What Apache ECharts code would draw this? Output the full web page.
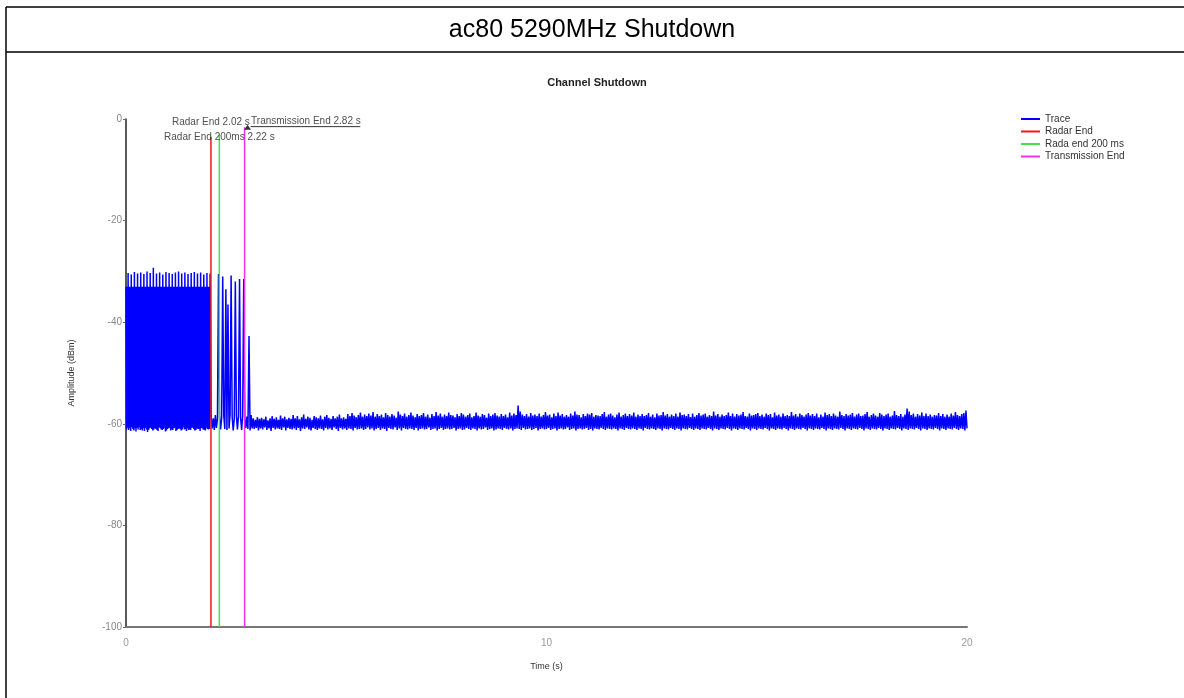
<!DOCTYPE html>
<html>
<head>
<meta charset="utf-8">
<script src="https://cdn.jsdelivr.net/npm/echarts@6/dist/echarts.min.js"></script>
<style>
html,body{margin:0;padding:0;background:#fff;}
#chart{width:1184px;height:698px;}
</style>
</head>
<body>
<div id="chart"></div>
<script>
// ---- data ----
const pageTitle = 'ac80 5290MHz Shutdown';
const chartTitle = 'Channel Shutdown';
const xName = 'Time (s)';
const yName = 'Amplitude (dBm)';
const xMin = 0, xMax = 20, xInterval = 10;
const yMin = -100, yMax = 0, yInterval = 20;

// burst part of the trace (0 .. 2.0 s)
const burstStart = 0;
const burstStep = 0.0125;
const burstValues = [
-33,-61.1,-33,-60.8,-30.3,-61.2,
-33,-60.9,-33,-61.4,-30.6,-60.7,
-33,-61.0,-33,-61.3,-30.1,-60.9,
-33,-61.5,-33,-60.8,-30.4,-61.1,
-33,-60.7,-33,-61.2,-30.2,-61.0,
-33,-61.3,-33,-60.9,-30.5,-61.4,
-33,-60.8,-33,-61.1,-30.0,-61.6,
-33,-61.2,-33,-60.9,-30.3,-60.8,
-33,-61.0,-33,-61.3,-29.3,-61.1,
-33,-60.9,-33,-61.0,-30.4,-61.2,
-33,-61.4,-33,-60.7,-30.2,-60.9,
-33,-61.1,-33,-61.2,-30.6,-61.0,
-33,-60.8,-33,-61.5,-30.1,-61.3,
-33,-61.0,-33,-60.9,-30.3,-60.8,
-33,-61.3,-33,-61.1,-30.5,-61.2,
-33,-60.9,-33,-60.8,-30.2,-61.4,
-33,-61.2,-33,-61.0,-30.0,-60.9,
-33,-61.0,-33,-61.3,-30.4,-61.1,
-33,-60.7,-33,-61.1,-30.2,-61.0,
-33,-61.4,-33,-60.9,-30.5,-61.2,
-33,-61.1,-33,-61.2,-30.3,-60.8,
-33,-60.8,-33,-61.0,-30.1,-61.3,
-33,-61.2,-33,-60.9,-30.4,-61.0,
-33,-61.0,-33,-61.4,-30.2,-60.9,
-33,-60.9,-33,-61.1,-30.6,-61.2,
-33,-61.3,-33,-60.8,-30.3,-61.0,
-33,-61.1,-33,-61.0,-30.4
];

// after the burst: decaying spikes, then the noise floor (2.025 .. 20 s)
const floorStart = 2.025;
const floorStep = 0.025;
const floorValues = [
-58.6,-60.9,-58.9,-61.2,-58.3,-60.8,-59.0,-30.5,-58.5,-61.1,
-58.8,-31.0,-58.4,-61.0,-33.5,-61.2,-36.5,-60.9,-58.2,-30.8,
-58.7,-61.3,-58.9,-32.0,-58.4,-61.1,-58.5,-31.5,-58.8,-61.2,
-58.4,-31.5,-58.9,-60.8,-58.6,-61.0,-42.7,-61.3,-58.3,-60.9,
-58.9,-61.0,-59.2,-60.8,-58.7,-61.3,-59.0,-60.9,-58.8,-61.1,
-59.1,-60.7,-58.6,-61.2,-59.3,-60.9,-58.9,-61.4,-58.5,-60.8,
-59.0,-61.1,-58.7,-60.9,-59.2,-61.0,-58.4,-61.2,-58.9,-60.7,
-58.6,-61.3,-59.1,-60.8,-58.8,-61.0,-59.0,-61.1,-58.3,-60.9,
-58.9,-61.2,-58.5,-60.8,-59.1,-61.4,-58.7,-60.9,-58.2,-61.0,
-59.0,-60.7,-58.6,-61.1,-58.8,-61.3,-59.2,-60.8,-58.5,-61.0,
-58.7,-61.2,-58.9,-60.9,-58.4,-61.0,-59.1,-61.3,-58.6,-60.8,
-58.3,-61.1,-58.8,-60.9,-59.0,-61.2,-58.5,-60.7,-58.9,-61.0,
-58.6,-61.4,-58.2,-60.8,-58.9,-61.1,-58.7,-60.9,-59.0,-61.2,
-58.1,-60.9,-58.5,-61.0,-57.9,-61.3,-58.4,-60.8,-58.7,-61.1,
-58.3,-61.0,-57.8,-60.9,-58.6,-61.2,-58.2,-61.0,-58.5,-60.7,
-58.0,-61.1,-58.4,-60.9,-57.7,-61.3,-58.6,-61.0,-58.1,-60.8,
-58.5,-61.2,-58.2,-60.9,-58.7,-61.0,-57.9,-61.4,-58.3,-60.8,
-58.6,-61.0,-58.1,-61.1,-58.4,-60.7,-58.8,-61.2,-57.6,-60.9,
-58.2,-61.3,-58.5,-60.8,-58.0,-61.0,-58.6,-61.1,-58.3,-60.9,
-57.8,-61.0,-58.4,-61.2,-58.7,-60.8,-58.1,-61.3,-58.5,-61.0,
-58.3,-60.9,-57.9,-61.1,-58.6,-61.0,-58.2,-60.7,-58.8,-61.2,
-58.1,-61.0,-58.5,-60.9,-57.7,-61.3,-58.4,-61.0,-58.0,-60.8,
-58.6,-61.2,-58.2,-61.0,-58.5,-60.9,-57.8,-61.1,-58.3,-61.0,
-58.4,-60.8,-58.7,-61.3,-58.1,-61.0,-58.5,-60.9,-57.9,-61.2,
-58.2,-61.1,-58.6,-60.8,-58.3,-61.0,-58.0,-61.2,-58.7,-60.9,
-58.5,-61.0,-57.8,-61.3,-58.4,-60.9,-58.6,-61.1,-58.1,-61.0,
-58.3,-60.7,-58.8,-61.2,-58.0,-61.0,-58.5,-60.9,-58.2,-61.3,
-57.9,-61.1,-58.4,-60.9,-58.6,-61.0,-58.1,-61.2,-58.5,-60.8,
-58.2,-61.0,-58.7,-61.1,-57.8,-60.9,-58.4,-61.3,-58.0,-61.0,
-58.3,-60.9,-56.4,-61.0,-57.6,-61.2,-58.2,-60.8,-58.5,-61.1,
-58.1,-61.0,-58.6,-60.9,-57.9,-61.2,-58.4,-61.0,-58.2,-60.8,
-58.5,-61.3,-58.0,-61.0,-58.6,-60.9,-58.3,-61.1,-57.7,-61.0,
-58.4,-60.8,-58.2,-61.2,-58.7,-61.0,-58.0,-60.9,-58.5,-61.3,
-57.8,-61.0,-58.4,-60.9,-58.1,-61.1,-58.6,-61.0,-58.3,-60.7,
-58.6,-61.2,-58.0,-61.0,-58.4,-60.9,-57.6,-61.3,-58.2,-61.0,
-58.3,-60.9,-58.7,-61.1,-58.1,-61.0,-58.5,-60.8,-58.0,-61.2,
-58.2,-61.0,-57.9,-61.3,-58.6,-60.9,-58.3,-61.0,-58.4,-61.1,
-58.5,-60.8,-58.1,-61.0,-57.7,-61.2,-58.6,-60.9,-58.2,-61.0,
-58.0,-61.1,-58.4,-60.9,-58.7,-61.0,-58.2,-61.3,-57.8,-60.9,
-58.6,-61.0,-58.3,-61.2,-58.0,-60.8,-58.5,-61.0,-58.1,-61.1,
-58.4,-60.9,-57.8,-61.0,-58.6,-61.2,-58.2,-60.9,-58.5,-61.0,
-58.1,-61.3,-58.5,-60.8,-58.3,-61.0,-57.9,-61.1,-58.6,-60.9,
-58.2,-61.0,-58.7,-61.2,-58.0,-60.9,-58.4,-61.0,-58.3,-61.3,
-57.7,-60.9,-58.4,-61.0,-58.1,-61.1,-58.6,-60.8,-58.2,-61.0,
-58.5,-61.2,-58.0,-60.9,-58.6,-61.0,-57.8,-61.3,-58.3,-60.9,
-58.2,-61.0,-58.5,-61.1,-58.1,-60.8,-58.7,-61.0,-58.0,-61.2,
-58.6,-60.9,-58.3,-61.0,-57.9,-61.2,-58.4,-60.9,-58.2,-61.0,
-58.0,-61.1,-58.6,-60.8,-58.3,-61.0,-58.5,-61.3,-57.6,-60.9,
-58.4,-61.0,-58.1,-61.2,-58.6,-60.9,-58.2,-61.0,-58.5,-61.1,
-58.3,-60.8,-57.8,-61.0,-58.5,-61.3,-58.0,-60.9,-58.6,-61.0,
-58.1,-61.2,-58.4,-60.9,-58.2,-61.0,-57.7,-61.1,-58.5,-60.8,
-58.6,-61.0,-58.0,-61.3,-58.4,-60.9,-58.3,-61.0,-58.1,-61.2,
-57.9,-60.9,-58.5,-61.0,-58.2,-61.1,-58.6,-60.8,-58.0,-61.0,
-58.3,-61.3,-58.1,-60.9,-58.7,-61.0,-57.8,-61.2,-58.4,-60.9,
-58.2,-61.0,-58.6,-61.1,-58.0,-60.8,-58.5,-61.0,-58.3,-61.3,
-58.5,-60.9,-57.7,-61.0,-58.4,-61.2,-58.1,-60.9,-58.6,-61.0,
-58.0,-61.1,-58.3,-60.8,-58.6,-61.0,-58.2,-61.3,-57.9,-60.9,
-58.4,-61.0,-58.1,-61.2,-58.5,-60.9,-58.0,-61.0,-58.7,-61.1,
-58.2,-60.8,-58.6,-61.0,-57.8,-61.3,-58.3,-60.9,-58.1,-61.0,
-58.5,-61.2,-58.0,-60.9,-58.4,-61.0,-58.6,-61.1,-57.6,-60.8,
-58.3,-61.0,-58.5,-61.3,-58.1,-60.9,-58.4,-61.0,-58.2,-61.2,
-57.9,-60.9,-58.6,-61.0,-58.2,-61.1,-58.0,-60.8,-58.5,-61.0,
-58.4,-61.3,-58.1,-60.9,-57.7,-61.0,-58.6,-61.2,-58.3,-60.9,
-58.0,-61.0,-58.4,-61.1,-58.6,-60.8,-57.9,-61.0,-58.2,-61.3,
-58.5,-60.9,-58.2,-61.0,-58.0,-61.2,-58.6,-60.9,-58.4,-61.0,
-57.5,-61.1,-58.3,-60.8,-58.5,-61.0,-58.1,-61.3,-58.6,-60.9,
-58.2,-61.0,-57.0,-61.2,-57.6,-60.9,-58.3,-61.0,-58.0,-61.1,
-58.6,-60.8,-58.1,-61.0,-58.4,-61.3,-57.8,-60.9,-58.5,-61.0,
-58.0,-61.2,-58.5,-60.9,-58.2,-61.0,-58.6,-61.1,-58.3,-60.8,
-58.4,-61.0,-57.9,-61.3,-58.5,-60.9,-58.1,-61.0,-58.6,-61.2,
-58.2,-60.9,-58.6,-61.0,-58.0,-61.1,-58.4,-60.8,-57.7,-61.0,
-58.3,-61.2,-58.5,-60.9,-58.1,-61.0,-57.9,-61.3,-57.4,-60.9
];

// vertical event markers
const markerNames = ['Radar End', 'Rada end 200 ms', 'Transmission End'];
const markerTimes = [2.02, 2.22, 2.82];
const markerTops = [-3.5, -3.1, -1.6];
const markerLabels = ['Radar End 2.02 s', 'Radar End 200ms 2.22 s', 'Transmission End 2.82 s'];
const traceName = 'Trace';

// ---- build ----
const FONT = '"Liberation Sans", Arial, sans-serif';
const markerColors = ['#f01818', '#44e044', '#f030f0'];

const traceData = burstValues.map((v, i) => [burstStart + i * burstStep, v])
  .concat(floorValues.map((v, i) => [floorStart + i * floorStep, v]));

const markerSeries = markerNames.map((n, k) => ({
  name: n,
  type: 'line',
  data: [[markerTimes[k], markerTops[k]], [markerTimes[k], yMin]],
  showSymbol: false,
  symbol: 'none',
  lineStyle: { color: markerColors[k], width: 1.5 },
  itemStyle: { color: markerColors[k] },
  z: 3,
  silent: true
}));

const labelSeries = {
  type: 'scatter',
  silent: true,
  z: 5,
  data: [
    { value: [markerTimes[0], markerTops[0]], symbolSize: 0,
      label: { show: true, formatter: markerLabels[0], position: 'top', distance: 10 } },
    { value: [markerTimes[1], markerTops[1]], symbolSize: 0,
      label: { show: true, formatter: markerLabels[1], position: 'inside', offset: [0, 3] } },
    { value: [markerTimes[2], markerTops[2]], symbol: 'triangle', symbolSize: [7, 5], symbolOffset: [3, 0],
      itemStyle: { color: '#000' },
      label: { show: true, formatter: markerLabels[2], position: 'right', distance: 0, offset: [0, -6] } }
  ],
  label: { color: '#222', fontSize: 10, fontFamily: FONT }
};

const chart = echarts.init(document.getElementById('chart'), null, { renderer: 'canvas' });
const option = {
  animation: false,
  backgroundColor: '#fff',
  title: [
    { text: pageTitle, left: 'center', top: 18, padding: 0,
      textStyle: { fontFamily: FONT, fontSize: 25, fontWeight: 'normal', color: '#000' } },
    { text: chartTitle, left: 597, textAlign: 'center', top: 77, padding: 0,
      textStyle: { fontFamily: FONT, fontSize: 11, fontWeight: 'bold', color: '#222' } }
  ],
  graphic: [
    { id: 'bl', type: 'line', shape: { x1: 6, y1: 7, x2: 6, y2: 700 }, style: { stroke: '#000', lineWidth: 1.5 } },
    { id: 'bt', type: 'line', shape: { x1: 6, y1: 7, x2: 1190, y2: 7 }, style: { stroke: '#000', lineWidth: 1.5 } },
    { id: 'bs', type: 'line', shape: { x1: 6, y1: 52, x2: 1190, y2: 52 }, style: { stroke: '#000', lineWidth: 1.5 } }
  ],
  legend: {
    orient: 'vertical',
    left: 1021, top: 114,
    padding: 0,
    itemGap: 2.5,
    itemWidth: 19, itemHeight: 2,
    icon: 'rect',
    data: [traceName].concat(markerNames),
    textStyle: { fontFamily: FONT, fontSize: 10, color: '#333' }
  },
  grid: { left: 126, right: 217, top: 119, bottom: 71, containLabel: false },
  xAxis: {
    type: 'value', min: xMin, max: xMax, interval: xInterval,
    name: xName, nameLocation: 'middle', nameGap: 35,
    nameTextStyle: { fontFamily: FONT, fontSize: 9, color: '#333' },
    axisLine: { onZero: false, lineStyle: { color: '#777', width: 2 } },
    axisTick: { show: false },
    axisLabel: { color: '#999', fontSize: 10, fontFamily: FONT, margin: 11 },
    splitLine: { show: false }
  },
  yAxis: {
    type: 'value', min: yMin, max: yMax, interval: yInterval,
    name: yName, nameLocation: 'middle', nameGap: 50,
    nameTextStyle: { fontFamily: FONT, fontSize: 9, color: '#333' },
    axisLine: { show: true, onZero: false, lineStyle: { color: '#222', width: 1.5 } },
    axisTick: { show: true, length: 3, lineStyle: { color: '#666' } },
    axisLabel: { color: '#888', fontSize: 10, fontFamily: FONT, margin: 4 },
    splitLine: { show: false }
  },
  series: [
    {
      name: traceName, type: 'line', data: traceData,
      showSymbol: false, symbol: 'none',
      lineStyle: { color: '#0000ff', width: 1.5 },
      itemStyle: { color: '#0000ff' },
      z: 2, silent: true
    }
  ].concat(markerSeries, [labelSeries])
};
chart.setOption(option);

// underline of the "Transmission End" note
const ctx = document.createElement('canvas').getContext('2d');
ctx.font = '10px ' + FONT;
const tw = ctx.measureText(markerLabels[2]).width;
const p = chart.convertToPixel({ gridIndex: 0 }, [markerTimes[2], markerTops[2]]);
chart.setOption({
  graphic: [
    { id: 'ul', type: 'line', shape: { x1: p[0] + 6, y1: p[1] - 0.5, x2: p[0] + 6 + tw, y2: p[1] - 0.5 },
      style: { stroke: '#333', lineWidth: 1 } }
  ]
});
</script>
</body>
</html>
